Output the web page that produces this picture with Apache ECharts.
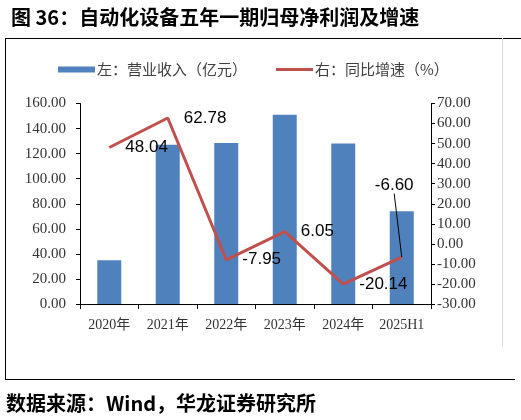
<!DOCTYPE html>
<html>
<head>
<meta charset="utf-8">
<style type="text/css">
html, body { margin: 0; padding: 0; background: #fff; }
#chart { width: 521px; height: 420px; }
</style>
</head>
<body>
<div id="chart"></div>
<script src="https://cdn.jsdelivr.net/npm/echarts@6/dist/echarts.min.js"></script>
<script>

let chart = echarts.init(document.getElementById('chart'));

// data
let years = ['2020年', '2021年', '2022年', '2023年', '2024年', '2025H1'];
let revenue = [35, 127, 128.5, 151, 128, 74];
let growth = [48.04, 62.78, -7.95, 6.05, -20.14, -6.60];

let serif = '"Liberation Serif", "Noto Sans CJK SC", serif';
let cjk = '"Noto Sans CJK SC", sans-serif';

// only the last point gets a leader line
let growthData = growth.map((v, i) => {
    if (i === growth.length - 1) {
        return {value: v, labelLine: {show: true, lineStyle: {color: '#000', width: 1}}};
    }
    return {value: v};
});

let option = {
    animation: false,
    backgroundColor: '#fff',
    title: {
        text: '图 36：自动化设备五年一期归母净利润及增速',
        left: 6,
        top: 2,
        textStyle: {fontFamily: cjk, fontSize: 20, fontWeight: 'bold', color: '#000'}
    },
    legend: {
        left: 53,
        top: 57,
        itemWidth: 37,
        itemHeight: 6,
        itemGap: 29,
        textStyle: {fontFamily: cjk, fontSize: 15, color: '#404040', padding: [0, 0, 0, -3]},
        data: [
            {name: '左：营业收入（亿元）', icon: 'rect'},
            {name: '右：同比增速（%）', icon: 'path://M0,0 L37,0 L37,3 L0,3 Z'}
        ]
    },
    grid: {left: 80, right: 90, top: 103.5, bottom: 116},
    xAxis: {
        type: 'category',
        data: years,
        axisLine: {lineStyle: {color: '#000', width: 1}},
        axisTick: {show: true, length: 5, inside: false, lineStyle: {color: '#000'}},
        axisLabel: {fontFamily: serif, fontSize: 14, color: '#333', margin: 14, interval: 0}
    },
    yAxis: [
        {
            type: 'value',
            min: 0, max: 160, interval: 20,
            axisLine: {show: true, lineStyle: {color: '#000', width: 1}},
            axisTick: {show: true, length: 4, lineStyle: {color: '#000'}},
            splitLine: {show: false},
            axisLabel: {fontFamily: serif, fontSize: 15, color: '#333', margin: 14,
                formatter: v => v.toFixed(2)}
        },
        {
            type: 'value',
            min: -30, max: 70, interval: 10,
            position: 'right',
            axisLine: {show: true, lineStyle: {color: '#000', width: 1}},
            axisTick: {show: true, length: 4, lineStyle: {color: '#000'}},
            splitLine: {show: false},
            axisLabel: {fontFamily: serif, fontSize: 15, color: '#333', margin: 6,
                formatter: v => v.toFixed(2)}
        }
    ],
    series: [
        {
            name: '左：营业收入（亿元）',
            type: 'bar',
            data: revenue,
            barWidth: 24,
            itemStyle: {color: '#4F81BD'}
        },
        {
            name: '右：同比增速（%）',
            type: 'line',
            yAxisIndex: 1,
            data: growthData,
            symbol: 'circle',
            symbolSize: 0.1,
            itemStyle: {color: '#C0504D'},
            lineStyle: {color: '#C0504D', width: 3},
            z: 5,
            label: {
                show: true,
                position: 'right',
                distance: 16,
                fontFamily: '"Liberation Sans", sans-serif',
                fontSize: 17,
                color: '#000',
                formatter: p => p.value.toFixed(2)
            },
            labelLine: {show: false},
            labelLayout: params => {
                if (params.dataIndex === 5) {
                    return {dx: -43, dy: -72};
                }
                return {};
            }
        }
    ],
    graphic: [
        {type: 'line', shape: {x1: 5, y1: 38.5, x2: 521, y2: 38.5}, style: {stroke: '#000', lineWidth: 1}},
        {type: 'line', shape: {x1: 5.5, y1: 38, x2: 5.5, y2: 379}, style: {stroke: '#000', lineWidth: 1}},
        {type: 'line', shape: {x1: 5, y1: 379.5, x2: 515, y2: 379.5}, style: {stroke: '#000', lineWidth: 1}},
        {type: 'line', shape: {x1: 502.5, y1: 38, x2: 502.5, y2: 347}, style: {stroke: '#d9d9d9', lineWidth: 1}},
        {
            type: 'text', left: 6, top: 393,
            style: {text: '数据来源：Wind，华龙证券研究所', font: 'bold 20px "Noto Sans CJK SC", sans-serif', fill: '#000'}
        }
    ]
};

chart.setOption(option);

</script>
</body>
</html>
